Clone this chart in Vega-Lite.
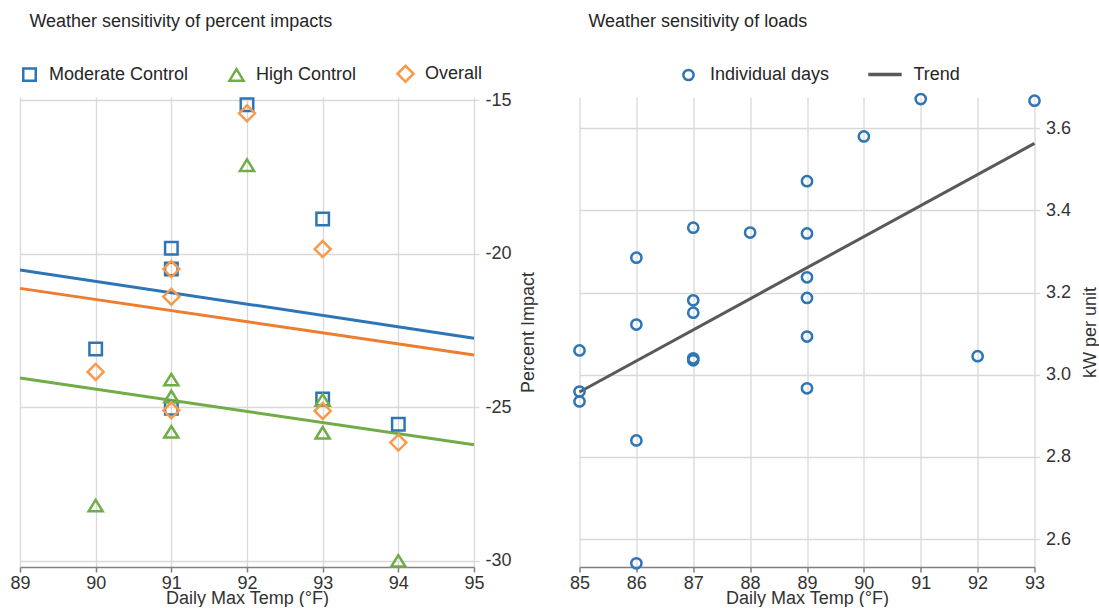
{
  "$schema": "https://vega.github.io/schema/vega-lite/v6.json",
  "padding": {"left": 9, "top": 13, "right": 0, "bottom": 0},
  "spacing": 30.5,
  "resolve": {
    "scale": {"color": "independent", "shape": "independent", "stroke": "independent", "x": "independent", "y": "independent"},
    "legend": {"color": "independent", "shape": "independent", "stroke": "independent"}
  },
  "datasets": {
    "impact": [
      {"temp": 90, "impact": -23.1, "series": "Moderate Control"},
      {"temp": 91, "impact": -19.82, "series": "Moderate Control"},
      {"temp": 91, "impact": -20.5, "series": "Moderate Control"},
      {"temp": 91, "impact": -25.03, "series": "Moderate Control"},
      {"temp": 92, "impact": -15.15, "series": "Moderate Control"},
      {"temp": 93, "impact": -18.87, "series": "Moderate Control"},
      {"temp": 93, "impact": -24.73, "series": "Moderate Control"},
      {"temp": 94, "impact": -25.55, "series": "Moderate Control"},
      {"temp": 90, "impact": -28.2, "series": "High Control"},
      {"temp": 91, "impact": -24.1, "series": "High Control"},
      {"temp": 91, "impact": -24.65, "series": "High Control"},
      {"temp": 91, "impact": -25.8, "series": "High Control"},
      {"temp": 92, "impact": -17.12, "series": "High Control"},
      {"temp": 93, "impact": -24.76, "series": "High Control"},
      {"temp": 93, "impact": -25.83, "series": "High Control"},
      {"temp": 94, "impact": -30.0, "series": "High Control"},
      {"temp": 90, "impact": -23.85, "series": "Overall"},
      {"temp": 91, "impact": -20.5, "series": "Overall"},
      {"temp": 91, "impact": -21.4, "series": "Overall"},
      {"temp": 91, "impact": -25.1, "series": "Overall"},
      {"temp": 92, "impact": -15.43, "series": "Overall"},
      {"temp": 93, "impact": -19.85, "series": "Overall"},
      {"temp": 93, "impact": -25.12, "series": "Overall"},
      {"temp": 94, "impact": -26.15, "series": "Overall"}
    ],
    "impactTrend": [
      {"temp": 89, "impact": -20.53, "fit": "Moderate Control trend"},
      {"temp": 95, "impact": -22.75, "fit": "Moderate Control trend"},
      {"temp": 89, "impact": -24.05, "fit": "High Control trend"},
      {"temp": 95, "impact": -26.22, "fit": "High Control trend"},
      {"temp": 89, "impact": -21.13, "fit": "Overall trend"},
      {"temp": 95, "impact": -23.3, "fit": "Overall trend"}
    ],
    "loads": [
      {"temp": 85, "kw": 3.059},
      {"temp": 85, "kw": 2.959},
      {"temp": 85, "kw": 2.935},
      {"temp": 86, "kw": 3.285},
      {"temp": 86, "kw": 3.122},
      {"temp": 86, "kw": 2.84},
      {"temp": 86, "kw": 2.541},
      {"temp": 87, "kw": 3.358},
      {"temp": 87, "kw": 3.181},
      {"temp": 87, "kw": 3.151},
      {"temp": 87, "kw": 3.04},
      {"temp": 87, "kw": 3.035},
      {"temp": 88, "kw": 3.346},
      {"temp": 89, "kw": 3.471},
      {"temp": 89, "kw": 3.344},
      {"temp": 89, "kw": 3.237},
      {"temp": 89, "kw": 3.187},
      {"temp": 89, "kw": 3.093},
      {"temp": 89, "kw": 2.967},
      {"temp": 90, "kw": 3.58},
      {"temp": 91, "kw": 3.671},
      {"temp": 92, "kw": 3.045},
      {"temp": 93, "kw": 3.667}
    ],
    "loadTrend": [
      {"temp": 85, "kw": 2.958},
      {"temp": 93, "kw": 3.563}
    ]
  },
  "hconcat": [
    {
      "width": 454,
      "height": 470,
      "title": {"text": "Weather sensitivity of percent impacts", "dx": 9.4, "offset": 33},
      "layer": [
        {
          "data": {"name": "impactTrend"},
          "mark": {"type": "line", "strokeWidth": 3},
          "encoding": {
            "x": {"field": "temp", "type": "quantitative"},
            "y": {"field": "impact", "type": "quantitative"},
            "stroke": {
              "field": "fit", "type": "nominal", "legend": null,
              "scale": {"domain": ["Moderate Control trend", "High Control trend", "Overall trend"], "range": ["#2E75B6", "#70AD47", "#ED7D31"]}
            }
          }
        },
        {
          "data": {"name": "impact"},
          "mark": {"type": "point", "filled": false, "strokeWidth": 2.5, "size": 256, "opacity": 1},
          "encoding": {
            "x": {
              "field": "temp", "type": "quantitative",
              "scale": {"domain": [89, 95], "nice": false, "zero": false},
              "axis": {"values": [89, 90, 91, 92, 93, 94, 95], "format": "d", "title": "Daily Max Temp (°F)"}
            },
            "y": {
              "field": "impact", "type": "quantitative",
              "scale": {"domain": [-30.2, -14.9], "nice": false, "zero": false},
              "axis": {
                "orient": "right", "values": [-30, -25, -20, -15], "title": "Percent Impact",
                "labelExpr": "replace(datum.label, '\u2212', '-')"
              }
            },
            "color": {
              "field": "series", "type": "nominal",
              "scale": {"domain": ["Moderate Control", "High Control", "Overall"], "range": ["#2E75B6", "#70AD47", "#F79A4B"]},
              "legend": {
                "orient": "top", "direction": "horizontal", "offset": 10, "title": null,
                "labelOffset": 10, "columnPadding": 35, "symbolSize": 256, "symbolStrokeWidth": 2.5
              }
            },
            "shape": {
              "field": "series", "type": "nominal",
              "scale": {
                "domain": ["Moderate Control", "High Control", "Overall"],
                "range": ["M-0.78,-0.78H0.78V0.78H-0.78Z", "M0,-0.72L0.88,0.72L-0.88,0.72Z", "M-1,0L0,-1L1,0L0,1Z"]
              },
              "legend": {
                "orient": "top", "direction": "horizontal", "offset": 10, "title": null,
                "labelOffset": 10, "columnPadding": 35, "symbolSize": 256, "symbolStrokeWidth": 2.5
              }
            }
          }
        }
      ]
    },
    {
      "width": 455,
      "height": 470,
      "title": {"text": "Weather sensitivity of loads", "dx": 8.9, "offset": 25},
      "layer": [
        {
          "data": {"name": "loadTrend"},
          "transform": [{"calculate": "'Trend'", "as": "kind"}],
          "mark": {"type": "line", "strokeWidth": 3},
          "encoding": {
            "x": {"field": "temp", "type": "quantitative"},
            "y": {"field": "kw", "type": "quantitative"},
            "color": {
              "field": "kind", "type": "nominal",
              "scale": {"domain": ["Trend"], "range": ["#595959"]},
              "legend": {
                "orient": "none", "legendX": 287, "legendY": -41, "title": null,
                "symbolType": "stroke", "symbolSize": 1115, "symbolStrokeWidth": 3.5, "labelOffset": 10
              }
            }
          }
        },
        {
          "data": {"name": "loads"},
          "transform": [{"calculate": "'Individual days'", "as": "kind"}],
          "mark": {"type": "point", "filled": false, "strokeWidth": 2.5, "size": 105, "color": "#2E75B6", "opacity": 1},
          "encoding": {
            "x": {
              "field": "temp", "type": "quantitative",
              "scale": {"domain": [85, 93], "nice": false, "zero": false},
              "axis": {"values": [85, 86, 87, 88, 89, 90, 91, 92, 93], "format": "d", "title": "Daily Max Temp (°F)"}
            },
            "y": {
              "field": "kw", "type": "quantitative",
              "scale": {"domain": [2.532, 3.676], "nice": false, "zero": false},
              "axis": {"orient": "right", "values": [2.6, 2.8, 3.0, 3.2, 3.4, 3.6], "format": ".1f", "title": "kW per unit", "titlePadding": 11}
            },
            "shape": {
              "field": "kind", "type": "nominal",
              "scale": {"domain": ["Individual days"], "range": ["circle"]},
              "legend": {
                "orient": "none", "legendX": 100, "legendY": -31, "title": null,
                "symbolSize": 105, "symbolStrokeWidth": 2.5, "symbolStrokeColor": "#2E75B6", "labelOffset": 12.5
              }
            }
          }
        }
      ]
    }
  ],
  "config": {
    "font": "Liberation Sans",
    "view": {"stroke": null},
    "title": {"anchor": "start", "frame": "group", "fontSize": 18, "fontWeight": "normal", "color": "#262626"},
    "axis": {
      "gridColor": "#D9D9D9", "gridWidth": 1.3,
      "labelFontSize": 18, "titleFontSize": 18, "titleFontWeight": "normal",
      "labelColor": "#333333", "titleColor": "#333333", "labelFont": "Liberation Sans", "titleFont": "Liberation Sans"
    },
    "axisX": {
      "domainColor": "#7F7F7F", "domainWidth": 1.5, "tickColor": "#7F7F7F", "tickWidth": 1.5, "tickSize": 5,
      "labelPadding": 2, "titlePadding": -3, "labelFlush": false
    },
    "axisY": {
      "domain": false, "tickColor": "#D9D9D9", "tickWidth": 1.3, "tickSize": 5,
      "labelPadding": 6, "titlePadding": 8, "titleAngle": 270, "titleBaseline": "top", "labelFlush": false
    },
    "legend": {
      "labelFontSize": 18, "labelColor": "#262626", "labelFont": "Liberation Sans", "padding": 0, "labelLimit": 400
    }
  }
}
